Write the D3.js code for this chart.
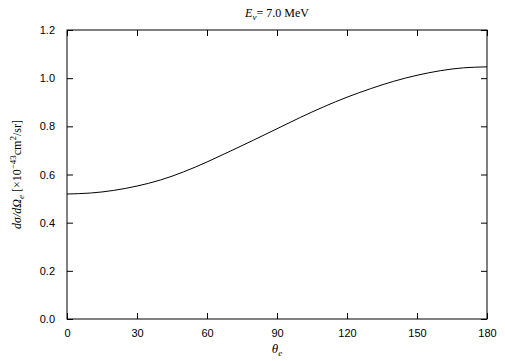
<!DOCTYPE html>
<html>
<head>
<meta charset="utf-8">
<script src="https://cdn.jsdelivr.net/npm/d3@7"></script>
<style>
  body { margin: 0; background: #fff; }
  .tick text { font-family: "Liberation Sans", Arial, sans-serif; font-size: 11px; fill: #000; }
  .serif { font-family: "Liberation Serif", "Times New Roman", serif; fill: #000; }
</style>
</head>
<body>
<div id="chart"></div>
<script>
// angle (deg) and cross section values
var theta = [0, 10, 20, 30, 40, 50, 60, 70, 80, 90, 100, 110, 120, 130, 140, 150, 160, 170, 180];
var xsec = [0.519, 0.523, 0.534, 0.552, 0.577, 0.611, 0.652, 0.697, 0.743, 0.790, 0.837, 0.881, 0.921, 0.956, 0.987, 1.012, 1.031, 1.043, 1.047];
var xTicks = [0, 30, 60, 90, 120, 150, 180];
var yTicks = [0.0, 0.2, 0.4, 0.6, 0.8, 1.0, 1.2];

var width = 505, height = 361;
var margin = {top: 30, right: 18, bottom: 42, left: 67};
var w = width - margin.left - margin.right,
    h = height - margin.top - margin.bottom;

var svg = d3.select("#chart").append("svg")
    .attr("width", width)
    .attr("height", height);

var g = svg.append("g")
    .attr("transform", "translate(" + margin.left + "," + margin.top + ")");

var x = d3.scaleLinear().domain([0, 180]).range([0, w]);
var y = d3.scaleLinear().domain([0, 1.2]).range([h, 0]);

// axes, ticks pointing inward
g.append("g").attr("transform", "translate(0," + h + ")")
    .call(d3.axisBottom(x).tickValues(xTicks).tickSizeInner(-6).tickSizeOuter(0).tickPadding(10).tickFormat(d3.format("d")));
g.append("g")
    .call(d3.axisLeft(y).tickValues(yTicks).tickSizeInner(-6).tickSizeOuter(0).tickPadding(12).tickFormat(d3.format(".1f")));
g.append("g").attr("transform", "translate(" + w + ",0)")
    .call(d3.axisRight(y).tickValues(yTicks).tickSizeInner(-6).tickSizeOuter(0).tickFormat(""));
g.append("g")
    .call(d3.axisTop(x).tickValues(xTicks).tickSizeInner(-6).tickSizeOuter(0).tickFormat(""));

g.selectAll(".domain").remove();
g.selectAll(".tick line").attr("stroke", "#000");

g.append("rect")
    .attr("width", w).attr("height", h)
    .attr("fill", "none").attr("stroke", "#000").attr("stroke-width", 1);

// the curve
var line = d3.line()
    .x(function(d, i) { return x(theta[i]); })
    .y(function(d) { return y(d); })
    .curve(d3.curveNatural);

g.append("path")
    .datum(xsec)
    .attr("d", line)
    .attr("fill", "none")
    .attr("stroke", "#000")
    .attr("stroke-width", 1);

// title
var title = svg.append("text").attr("class", "serif")
    .attr("x", margin.left + w / 2).attr("y", 17)
    .attr("text-anchor", "middle").style("font-size", "12px");
title.append("tspan").style("font-style", "italic").text("E");
title.append("tspan").style("font-style", "italic").style("font-size", "9px").attr("dy", 3).text("ν");
title.append("tspan").attr("dy", -3).text("= 7.0 MeV");

// x label
var xl = svg.append("text").attr("class", "serif")
    .attr("x", margin.left + w / 2).attr("y", 353)
    .attr("text-anchor", "middle").style("font-size", "13px");
xl.append("tspan").style("font-style", "italic").text("θ");
xl.append("tspan").style("font-style", "italic").style("font-size", "9px").attr("dy", 3).text("e");

// y label
var yl = svg.append("text").attr("class", "serif")
    .attr("transform", "translate(21," + (margin.top + h / 2) + ") rotate(-90)")
    .attr("text-anchor", "middle").style("font-size", "12px");
yl.append("tspan").style("font-style", "italic").text("dσ/dΩ");
yl.append("tspan").style("font-style", "italic").style("font-size", "9px").attr("dy", 3).text("e");
yl.append("tspan").attr("dy", -3).text(" [×10");
yl.append("tspan").style("font-size", "9px").attr("dy", -5).text("−43");
yl.append("tspan").attr("dy", 5).text("cm");
yl.append("tspan").style("font-size", "9px").attr("dy", -5).text("2");
yl.append("tspan").attr("dy", 5).text("/sr]");
</script>
</body>
</html>
